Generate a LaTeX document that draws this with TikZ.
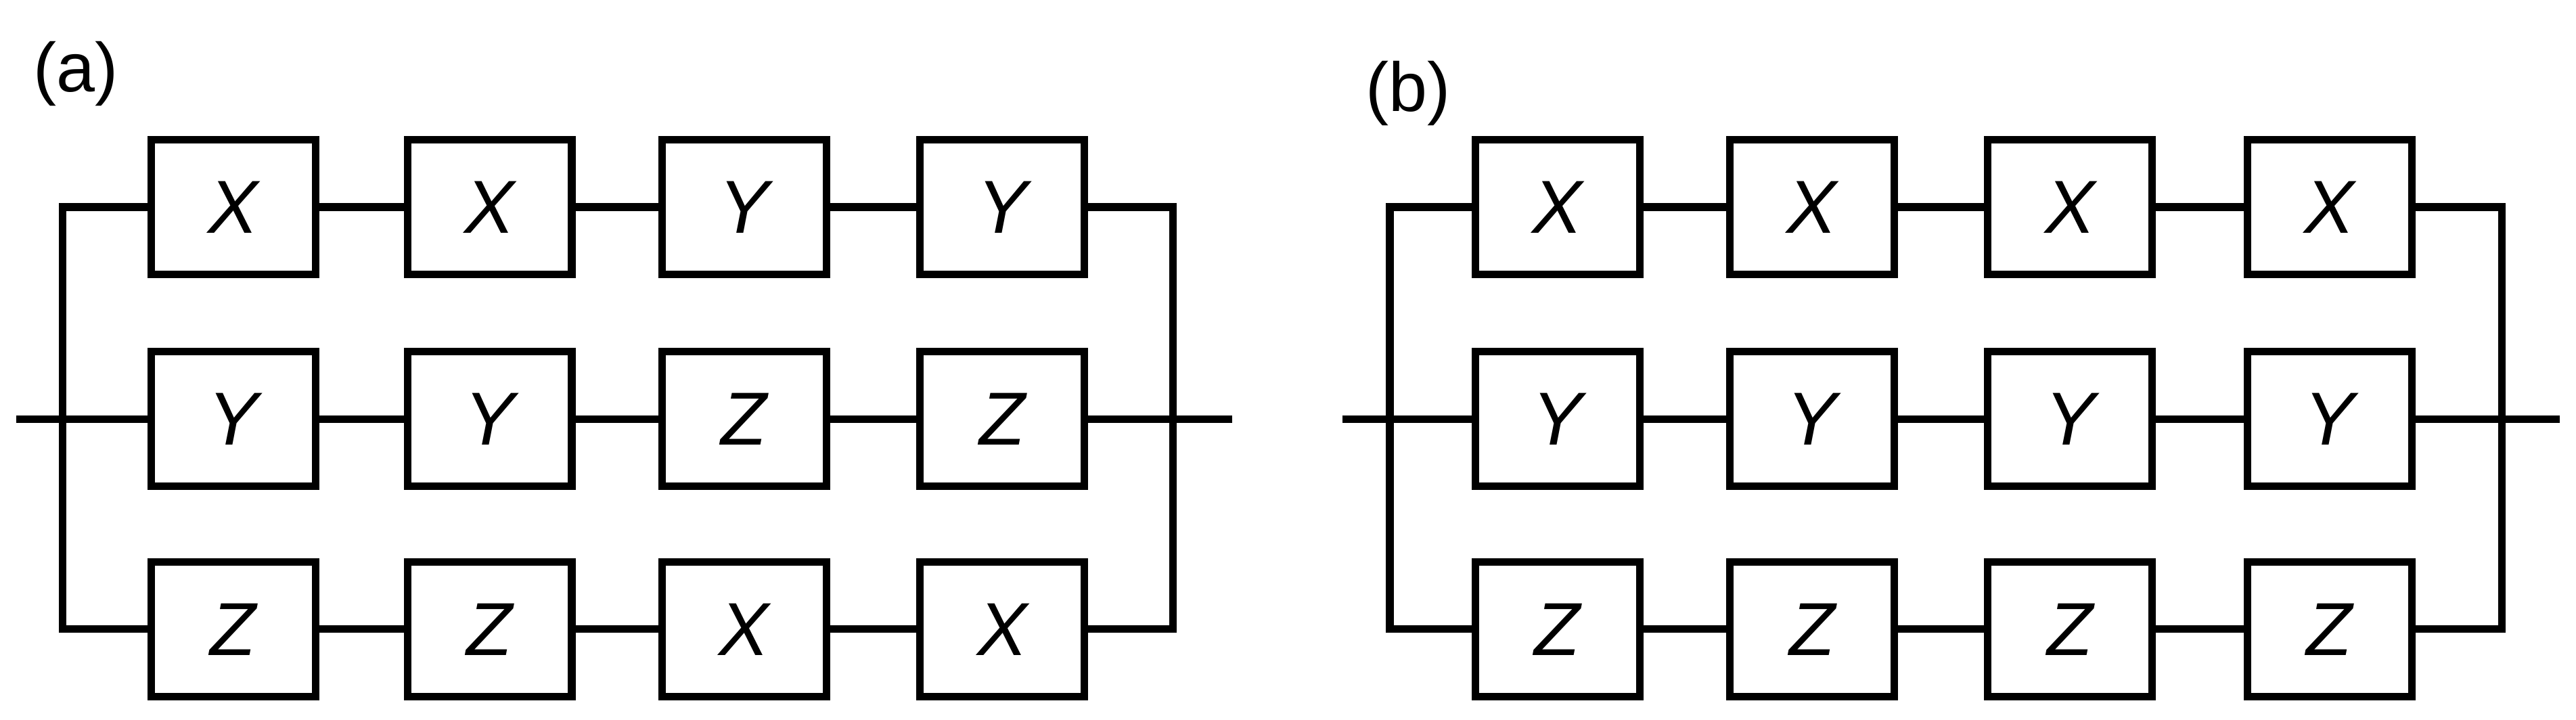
\documentclass[tikz,border=0pt]{standalone}
\usepackage{fontspec}
\setmainfont{Liberation Sans}
\usetikzlibrary{positioning}
\tikzset{
	blk/.style={draw, line width=1.3pt, minimum width=1cm, minimum height=0.82cm, inner sep=0pt, font=\fontsize{13}{15}\selectfont\itshape},
	wire/.style={line width=1.3pt, line join=miter},
	tag/.style={font=\fontsize{12}{14}\selectfont}
}
\begin{document}
\begin{tikzpicture}[x=0.01cm, y=-0.01cm]
	\useasboundingbox (0,0) rectangle (1568,438);

	% panel labels
	\node[tag] (La) at (46,45) {(a)};
	\node[tag] (Lb) at (857,57) {(b)};

	% panel (a)
	\foreach \r/\yy/\la/\lb/\lc/\ld in {1/126/X/X/Y/Y, 2/255/Y/Y/Z/Z, 3/383/Z/Z/X/X} {
		\node[blk] (a\r1) at (142,\yy) {\la};
		\node[blk] (a\r2) at (298,\yy) {\lb};
		\node[blk] (a\r3) at (453,\yy) {\lc};
		\node[blk] (a\r4) at (610,\yy) {\ld};
		\coordinate (aL\r) at (38,\yy);
		\coordinate (aR\r) at (714,\yy);
		\draw[wire] (a\r1) -- (a\r2) -- (a\r3) -- (a\r4);
	}
	\coordinate (aIn) at (10,255);
	\coordinate (aOut) at (750,255);
	\draw[wire] (a11.west) -- (aL1) -- (aL3) -- (a31.west);
	\draw[wire] (a14.east) -- (aR1) -- (aR3) -- (a34.east);
	\draw[wire] (aIn) -- (a21.west);
	\draw[wire] (a24.east) -- (aOut);

	% panel (b)
	\foreach \r/\yy/\l in {1/126/X, 2/255/Y, 3/383/Z} {
		\node[blk] (b\r1) at (948,\yy) {\l};
		\node[blk] (b\r2) at (1103,\yy) {\l};
		\node[blk] (b\r3) at (1260,\yy) {\l};
		\node[blk] (b\r4) at (1418,\yy) {\l};
		\coordinate (bL\r) at (846,\yy);
		\coordinate (bR\r) at (1523,\yy);
		\draw[wire] (b\r1) -- (b\r2) -- (b\r3) -- (b\r4);
	}
	\coordinate (bIn) at (817,255);
	\coordinate (bOut) at (1558,255);
	\draw[wire] (b11.west) -- (bL1) -- (bL3) -- (b31.west);
	\draw[wire] (b14.east) -- (bR1) -- (bR3) -- (b34.east);
	\draw[wire] (bIn) -- (b21.west);
	\draw[wire] (b24.east) -- (bOut);
\end{tikzpicture}
\end{document}
